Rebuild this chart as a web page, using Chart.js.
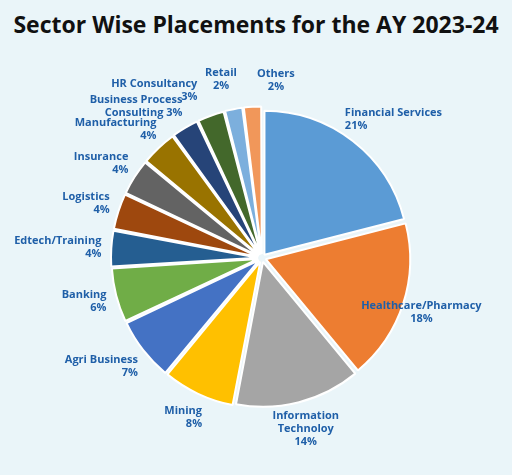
<!DOCTYPE html>
<html><head><script src="https://cdn.jsdelivr.net/npm/chart.js"></script>
<style>body{margin:0;background:#eaf5f9;}#t{position:absolute;top:8px;left:0;width:512px;text-align:center;font:bold 23px "Open Sans",sans-serif;color:#111;}#w{position:absolute;top:0;left:0;width:512px;height:475px}</style></head>
<body><div id="t">Sector Wise Placements for the AY 2023-24</div><div id="w"><canvas id="c"></canvas></div>
<script>
const categories=["Financial Services","Healthcare/Pharmacy","Information Technoloy","Mining","Agri Business","Banking","Edtech/Training","Logistics","Insurance","Manufacturing","Business Process Consulting","HR Consultancy","Retail","Others"];
const values=[21,18,14,8,7,6,4,4,4,4,3,3,2,2];
const labelLines=[["Financial Services","21%"],["Healthcare/Pharmacy","18%"],["Information","Technoloy","14%"],["Mining","8%"],["Agri Business","7%"],["Banking","6%"],["Edtech/Training","4%"],["Logistics","4%"],["Insurance","4%"],["Manufacturing","4%"],["Business Process","Consulting 3%"],["HR Consultancy","3%"],["Retail","2%"],["Others","2%"]];
const colors=["#5b9bd5","#ed7d31","#a5a5a5","#ffc000","#4472c4","#70ad47","#255e91","#9e480e","#636363","#997300","#264478","#43682b","#7cafdd","#f1975a"];
// label nudges (style only)
const nudge=[[0,0],[-8,0],[0,0],[0,0],[0,0],[0,0],[0,0],[0,0],[0,0],[0,0],[-5,0],[-20,-2],[-8,-6],[25,-2]];
const labelPlugin={id:'lbl',afterDatasetsDraw(ch){
 const ctx=ch.ctx;const meta=ch.getDatasetMeta(0);
 ctx.save();ctx.font='bold 11px "Open Sans",sans-serif';ctx.fillStyle='#1f5fa8';ctx.textBaseline='middle';
 meta.data.forEach((a,i)=>{const m=(a.startAngle+a.endAngle)/2;const r=a.outerRadius+32;
  let x=a.x+Math.cos(m)*r+nudge[i][0],y=a.y+Math.sin(m)*r+nudge[i][1];const c=Math.cos(m);
  ctx.textAlign=i==1?'center':(c>0.3?'left':(c<-0.3?'right':'center'));
  if(i!=1&&c>0.3)x-=25; if(c<-0.3)x+=15;
  const L=labelLines[i];L.forEach((s,k)=>ctx.fillText(s,x,y+(k-(L.length-1)/2)*13));});
 ctx.restore();}};
new Chart(document.getElementById('c'),{type:'pie',data:{labels:categories,datasets:[{data:values,backgroundColor:colors,borderColor:'#ffffff',borderWidth:2,offset:16}]},
options:{responsive:true,maintainAspectRatio:false,animation:false,layout:{padding:{top:105,bottom:64,left:109,right:97}},plugins:{legend:{display:false},tooltip:{enabled:false}}},plugins:[labelPlugin]});
</script></body></html>
